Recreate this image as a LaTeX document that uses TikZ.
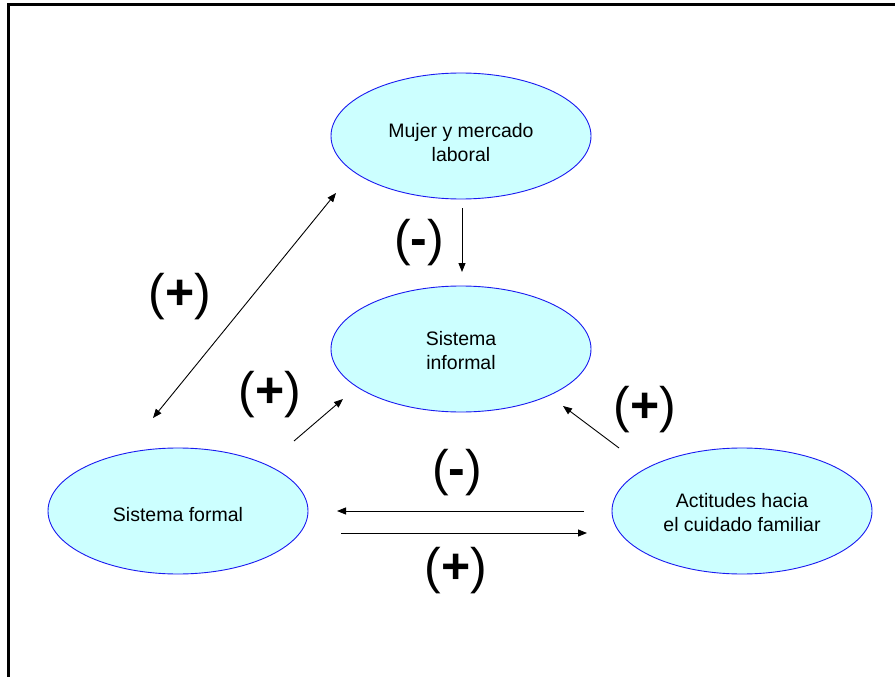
\documentclass[tikz,border=0pt]{standalone}
\usepackage{fontspec}
\setmainfont{Liberation Sans}
\usetikzlibrary{shapes.geometric,arrows.meta}
\definecolor{bubblefill}{HTML}{CCFFFF}
\definecolor{bubbleline}{HTML}{1A1AF0}
\begin{document}
\begin{tikzpicture}[x=1pt,y=-1pt,
  bubble/.style={ellipse,draw=bubbleline,line width=0.9pt,fill=bubblefill,
    minimum width=260pt,minimum height=126pt,inner sep=0pt},
  btext/.style={inner sep=0pt,align=center,font=\fontsize{19.5}{24}\selectfont},
  arr/.style={line width=0.9pt,-{Triangle[length=9pt,width=7pt]}},
  darr/.style={line width=0.9pt,{Triangle[length=9pt,width=7pt]}-{Triangle[length=9pt,width=7pt]}},
  sign/.style={inner sep=0pt,font=\fontsize{50}{60}\selectfont}]
  \useasboundingbox (0,0) rectangle (895,677);
  \clip (0,0) rectangle (895,677);
  % outer frame (runs past the right and bottom edges)
  \draw[line width=3pt] (8,700) -- (8,5) -- (910,5);

  % the four bubbles
  \node[bubble] (top) at (461,136) {};
  \node[bubble] (mid) at (461,349) {};
  \node[bubble] (left) at (178,511) {};
  \node[bubble] (right) at (742,511) {};

  % their texts, set a little below each centre
  \node[btext] (topt) at ([shift={(0,7)}]top.center) {Mujer y mercado\\laboral};
  \node[btext] (midt) at ([shift={(0,2)}]mid.center) {Sistema\\informal};
  \node[btext] (leftt) at ([shift={(0,4)}]left.center) {Sistema formal};
  \node[btext] (rightt) at ([shift={(0,2)}]right.center) {Actitudes hacia\\el cuidado familiar};

  % connectors
  \draw[arr] ([shift={(1,72)}]top.center) -- ([shift={(1,-77)}]mid.center);
  \draw[darr] ([shift={(-25,-93)}]left.center) -- ([shift={(-125,57)}]top.center);
  \draw[arr] ([shift={(116,-70)}]left.center) -- ([shift={(-118,50)}]mid.center);
  \draw[arr] ([shift={(-123,-63)}]right.center) -- ([shift={(102,57)}]mid.center);
  \draw[arr] ([shift={(-158,0)}]right.center) -- ([shift={(159,0)}]left.center);
  \draw[arr] ([shift={(163,22)}]left.center) -- ([shift={(-155,22)}]right.center);

  % signs of the effects
  \node[sign] (s1) at (419,243) {(\textbf{-})};
  \node[sign] (s2) at (180,297) {(\textbf{+})};
  \node[sign] (s3) at (270,395) {(\textbf{+})};
  \node[sign] (s4) at (645,410) {(\textbf{+})};
  \node[sign] (s5) at (457,473) {(\textbf{-})};
  \node[sign] (s6) at (456,571) {(\textbf{+})};
\end{tikzpicture}
\end{document}
